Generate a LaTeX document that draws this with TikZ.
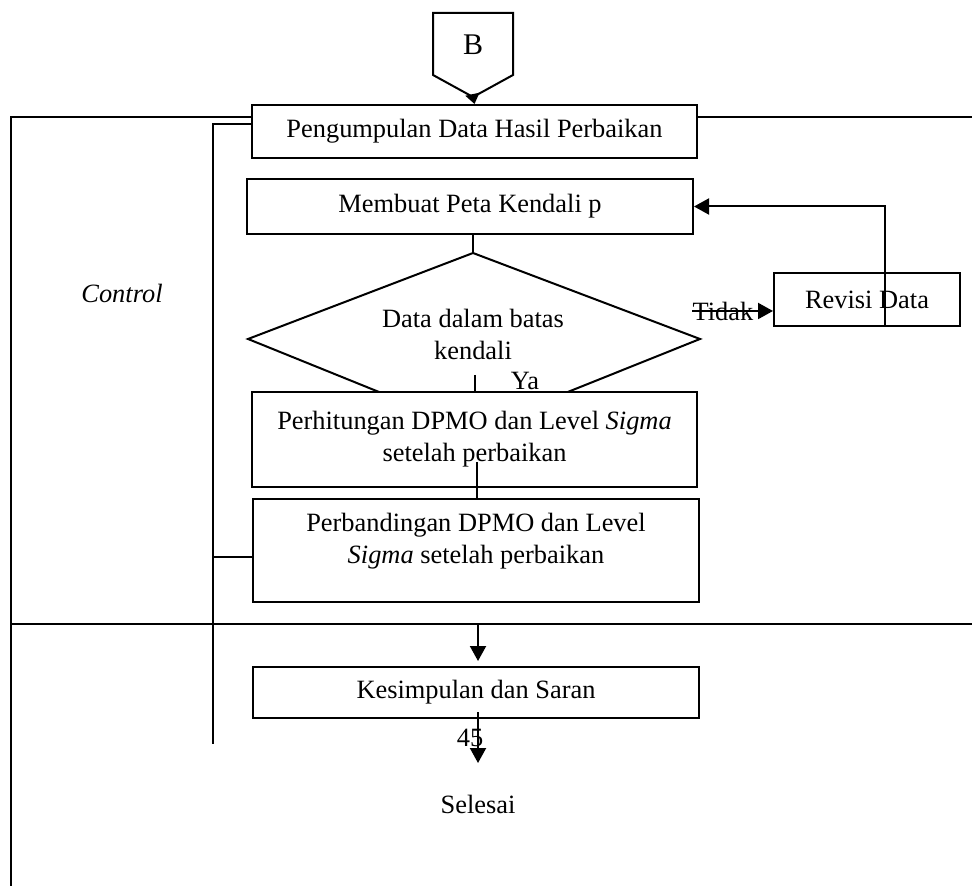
\documentclass[tikz,border=0pt]{standalone}
\usepackage{fontspec}
\setmainfont{Liberation Serif}
\usetikzlibrary{arrows.meta}

\tikzset{
  box/.style={draw, fill=white, line width=1pt, inner sep=0pt, align=center},
  line/.style={line width=1pt},
  arr/.style={line width=1pt, -{Triangle[length=7.5pt,width=8pt]}},
}

\begin{document}
\begin{tikzpicture}[x=0.5pt, y=-0.5pt, font=\fontsize{13.2}{16}\selectfont]
        \useasboundingbox (0,0) rectangle (972,886);
        % lanes
        \draw[line] (11,886) -- (11,117) -- (972,117);
        \draw[line] (11,624) -- (972,624);
        \node (control) at (122,293) {\textit{Control}};

        % off-page connector
        \draw[line] (433,13) -- (513,13) -- (513,75) -- (473,97) -- (433,75) -- cycle;
        \node[font=\fontsize{15}{18}\selectfont] (B) at (473,45) {B};
        \coordinate (Btip) at (473,97);

        % decision
        \draw[line] (473,253) -- (700,339) -- (473,430) -- (248,339) -- cycle;
        \coordinate (decTop) at (473,253);
        \node[align=center] (dec) at (473,334) {Data dalam batas\\kendali};
        \coordinate (yaStub) at (475,375);
        \node[inner sep=0pt] (ya) at (525,381) {Ya};
        \node[inner sep=0pt] (tidak) at (723,311) {Tidak};

        \node[box, minimum width=222.5pt, minimum height=26.5pt] (kumpul) at (474.5,131.5) {Pengumpulan Data Hasil Perbaikan};
        \node[box, minimum width=223pt, minimum height=27.5pt] (peta) at (470,206.5) {Membuat Peta Kendali p};
        \node[box, minimum width=93pt, minimum height=26.5pt] (revisi) at (867,299.5) {Revisi Data};
        \node[box, minimum width=222.5pt, minimum height=47.5pt] (hitung) at (474.5,439.5) {Perhitungan DPMO dan Level \textit{Sigma}\\setelah perbaikan};
        \node[box, minimum width=223pt, minimum height=51.5pt] (banding) at (476,550.5) {};
        \node[align=center] (bandingTxt) at (476,541) {Perbandingan DPMO dan Level\\\textit{Sigma} setelah perbaikan};
        \node[box, minimum width=223pt, minimum height=25.5pt] (simpul) at (476,692.5) {Kesimpulan dan Saran};
        \node (selesai) at (478,804) {Selesai};
        \node[inner sep=0pt] (hal) at (470,738) {45};

        % connectors
        \draw[line, -{Triangle[length=5pt,width=7pt]}] (Btip) -- (kumpul.north);
        \draw[line] (peta.south -| decTop) -- (decTop);
        \draw[line] (yaStub) -- (yaStub |- hitung.north);
        \draw[arr] (tidak.west) -- (tidak.west -| revisi.west);
        \draw[arr] ([xshift=9pt]revisi.south) |- (peta.east);
        \coordinate (hitungOut) at (477,462);
        \draw[line] (hitungOut) -- (hitungOut |- banding.north);
        \coordinate (laneOut) at (478,624);
        \draw[arr, shorten >=2.5pt] (laneOut) -- (laneOut |- simpul.north);
        \coordinate (simpulOut) at (478,712);
        \draw[arr] (simpulOut) -- (478,763);
        \coordinate (fbEnd) at (213,744);
        \draw[line] ([yshift=3.75pt]kumpul.west) -| (fbEnd);
        \draw[line] ([yshift=-3.25pt]banding.west) -- ([yshift=-3.25pt]banding.west -| fbEnd);
    \end{tikzpicture}
\end{document}
